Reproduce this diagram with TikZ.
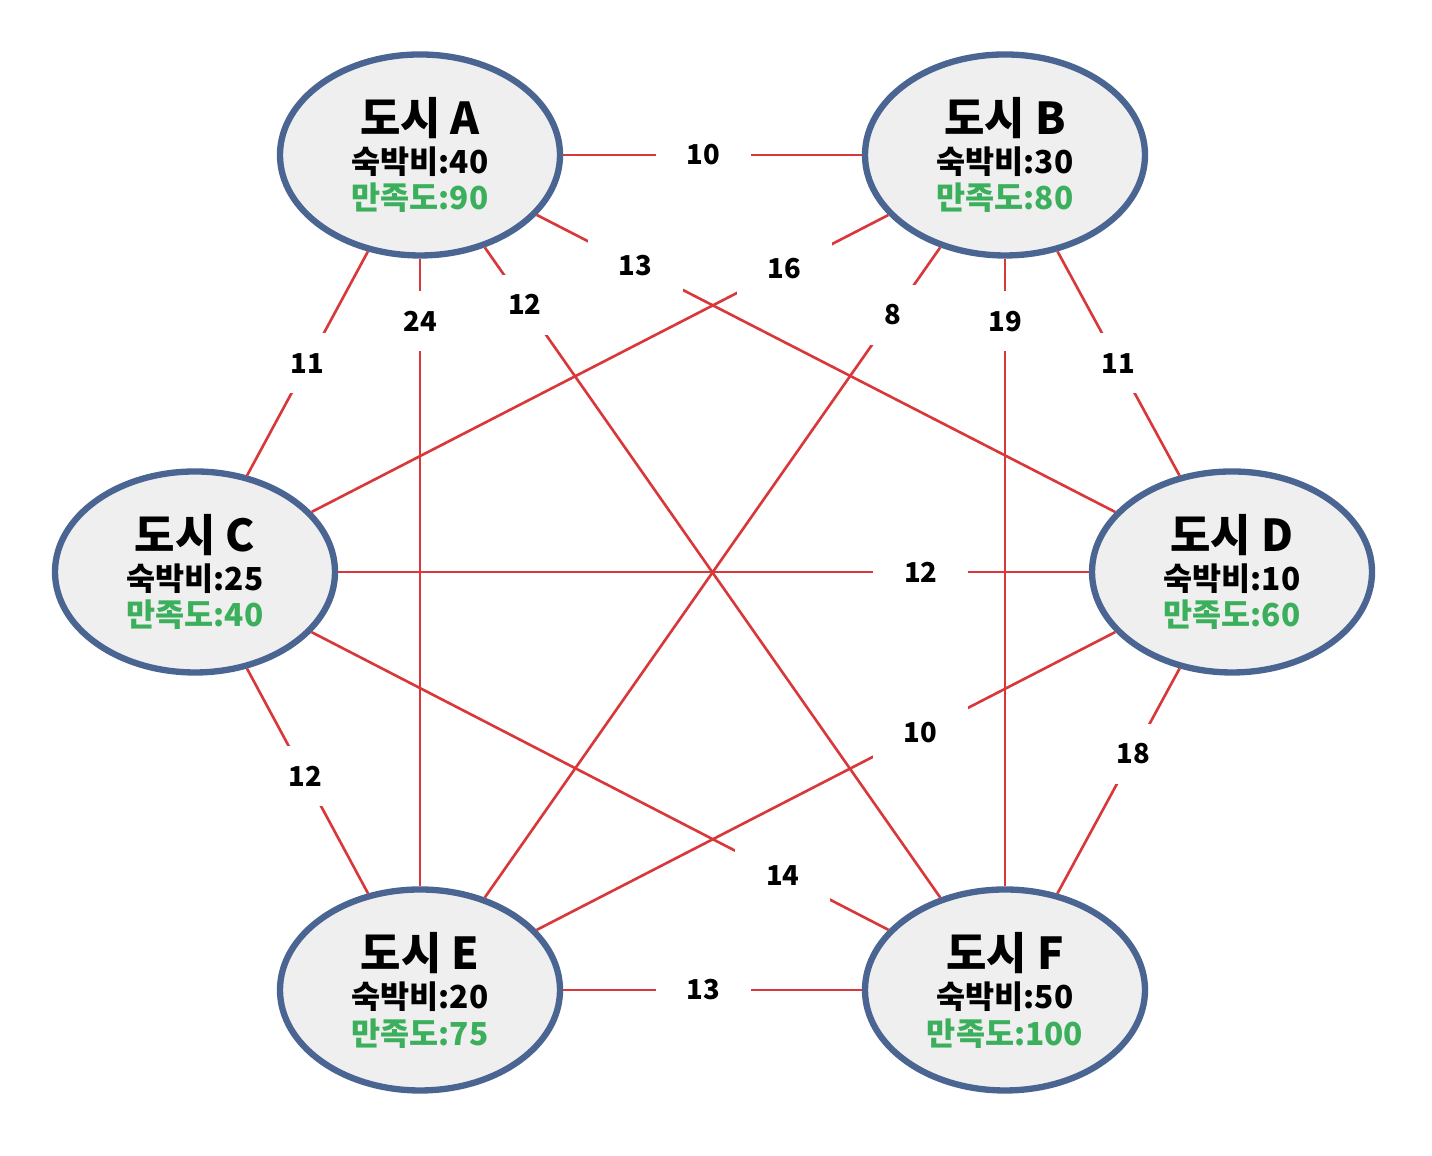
\documentclass[tikz,border=0pt]{standalone}
\usepackage{fontspec}
\usepackage{xcolor}
\usepackage{tikz}
\usetikzlibrary{shapes.geometric}
\newfontfamily\kr{Noto Sans CJK KR}
\definecolor{CityBorder}{HTML}{4A6592}
\definecolor{CityFill}{HTML}{EFEFEF}
\definecolor{RoadRed}{HTML}{D9383A}
\definecolor{JoyGreen}{HTML}{3BAF5B}
\newcommand{\cityinfo}[3]{{\fontsize{12.5}{13}\selectfont #1}\\[0.5pt]#2\\[-0.5pt]{\color{JoyGreen}#3}}

\begin{document}
\begin{tikzpicture}[
    city/.style={ellipse, draw=CityBorder, fill=CityFill, line width=1.8pt,
        minimum width=2.8cm, minimum height=2.01cm, inner sep=0pt, align=center,
        font=\kr\bfseries\fontsize{9}{10.8}\selectfont},
    road/.style={draw=RoadRed, line width=0.75pt},
    cost/.style={fill=white, minimum width=0.95cm, minimum height=0.6cm, inner sep=0pt,
        font=\kr\bfseries\fontsize{7.8}{9}\selectfont}
]
        \useasboundingbox (0,0) rectangle (14.32,11.56);

        % Cities
        \node[city] (cityA) at (4.20, 10.01) {\cityinfo{도시 A}{숙박비:40}{만족도:90}};
        \node[city] (cityB) at (10.05, 10.01) {\cityinfo{도시 B}{숙박비:30}{만족도:80}};
        \node[city] (cityC) at (1.95, 5.84) {\cityinfo{도시 C}{숙박비:25}{만족도:40}};
        \node[city] (cityD) at (12.32, 5.84) {\cityinfo{도시 D}{숙박비:10}{만족도:60}};
        \node[city] (cityE) at (4.20, 1.66) {\cityinfo{도시 E}{숙박비:20}{만족도:75}};
        \node[city] (cityF) at (10.05, 1.66) {\cityinfo{도시 F}{숙박비:50}{만족도:100}};

        % Roads with costs
        \draw[road] (cityA) -- node[cost, pos=0.47] {10} (cityB);
        \draw[road] (cityA) -- node[cost, pos=0.5] {11} (cityC);
        \draw[road] (cityA) -- node[cost, pos=0.1] {24} (cityE);
        \draw[road] (cityA) -- node[cost, pos=0.088] {12} (cityF);
        \draw[road] (cityA) -- node[cost, pos=0.17] {13} (cityD);
        \draw[road] (cityB) -- node[cost, pos=0.18] {16} (cityC);
        \draw[road] (cityB) -- node[cost, pos=0.104] {8} (cityE);
        \draw[road] (cityB) -- node[cost, pos=0.1] {19} (cityF);
        \draw[road] (cityB) -- node[cost, pos=0.5] {11} (cityD);
        \draw[road] (cityC) -- node[cost, pos=0.776] {12} (cityD);
        \draw[road] (cityC) -- node[cost, pos=0.48] {12} (cityE);
        \draw[road] (cityC) -- node[cost, pos=0.817] {14} (cityF);
        \draw[road] (cityD) -- node[cost, pos=0.337] {10} (cityE);
        \draw[road] (cityD) -- node[cost, pos=0.38] {18} (cityF);
        \draw[road] (cityE) -- node[cost, pos=0.47] {13} (cityF);
    \end{tikzpicture}
\end{document}
